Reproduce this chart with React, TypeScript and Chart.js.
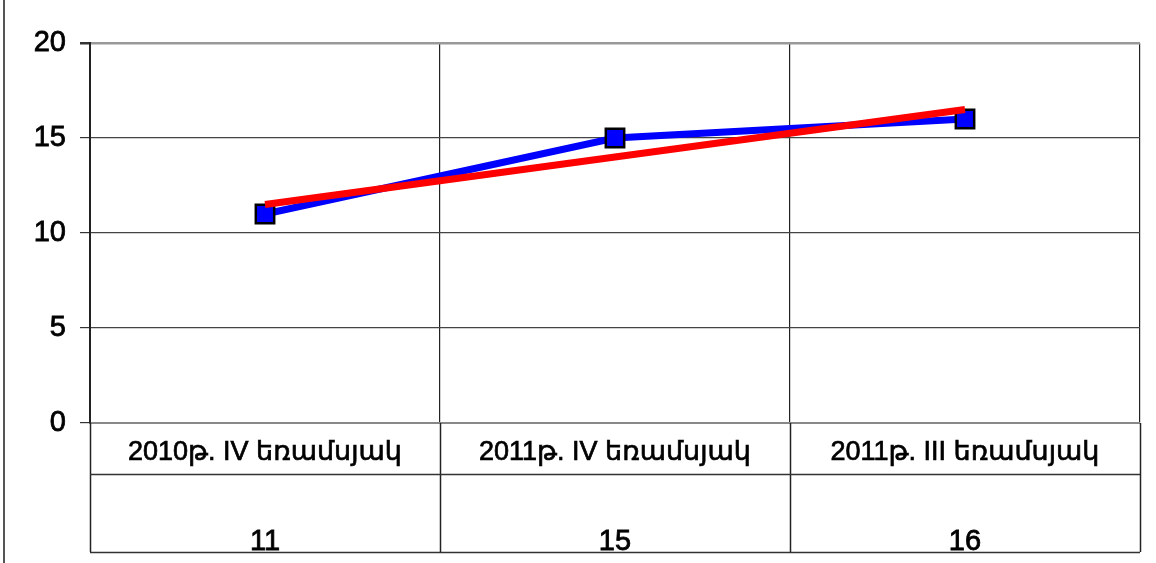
import React, { useEffect, useRef } from "react";
import { Chart, registerables } from "chart.js";

Chart.register(...registerables);

const categories = ["2010թ. IV եռամսյակ", "2011թ. IV եռամսյակ", "2011թ. III եռամսյակ"];
const seriesValues = [11, 15, 16];
const trendValues = [11.5, 14, 16.5];
const yMin = 0;
const yMax = 20;
const yStep = 5;

const FONT = "'Liberation Sans', Arial, 'DejaVu Sans', sans-serif";

const tablePlugin = {
  id: "dataTable",
  afterDraw(chart: any) {
    const ctx = chart.ctx;
    const x = chart.scales.x;
    const area = chart.chartArea;
    const n = categories.length;
    const bounds: number[] = [];
    for (let i = 0; i <= n; i++) bounds.push(x.getPixelForValue(i - 0.5));
    const rowMid = area.bottom + 51;
    const tableBottom = area.bottom + 129;
    ctx.save();
    // left page border
    ctx.strokeStyle = "#555";
    ctx.lineWidth = 2;
    ctx.beginPath();
    ctx.moveTo(4, 0);
    ctx.lineTo(4, chart.height);
    ctx.stroke();
    // table verticals
    ctx.strokeStyle = "#222";
    ctx.lineWidth = 1.5;
    for (const b of bounds) {
      ctx.beginPath();
      ctx.moveTo(Math.round(b) + 0.5, area.bottom);
      ctx.lineTo(Math.round(b) + 0.5, tableBottom);
      ctx.stroke();
    }
    // table horizontals
    ctx.strokeStyle = "#333";
    ctx.lineWidth = 1.5;
    for (const yy of [rowMid, tableBottom]) {
      ctx.beginPath();
      ctx.moveTo(bounds[0], yy + 0.5);
      ctx.lineTo(bounds[n], yy + 0.5);
      ctx.stroke();
    }
    // values row
    ctx.fillStyle = "#000";
    ctx.strokeStyle = "#000";
    ctx.lineWidth = 0.8;
    ctx.font = `29px ${FONT}`;
    ctx.textAlign = "center";
    ctx.textBaseline = "alphabetic";
    for (let i = 0; i < n; i++) {
      const px = x.getPixelForValue(i);
      ctx.fillText(String(seriesValues[i]), px, tableBottom - 2);
      ctx.strokeText(String(seriesValues[i]), px, tableBottom - 2);
    }
    ctx.restore();
  },
};

export default function App() {
  const ref = useRef<HTMLCanvasElement>(null);
  useEffect(() => {
    if (!ref.current) return;
    const chart = new Chart(ref.current, {
      type: "line",
      data: {
        labels: categories,
        datasets: [
          {
            label: "series",
            data: seriesValues,
            borderColor: "#0000FF",
            backgroundColor: "#0000FF",
            borderWidth: 7,
            pointStyle: "rect",
            pointRadius: 13,
            pointBorderWidth: 2.5,
            pointBorderColor: "#000",
            pointBackgroundColor: "#0000FF",
            tension: 0,
            order: 1,
          },
          {
            label: "trend",
            data: trendValues,
            borderColor: "#FF0000",
            borderWidth: 7,
            pointRadius: 0,
            tension: 0,
            order: 0,
          },
        ],
      },
      options: {
        animation: false,
        responsive: false,
        layout: { padding: { left: 0, top: 43, right: 16, bottom: 0 } },
        plugins: { legend: { display: false }, tooltip: { enabled: false } },
        scales: {
          x: {
            type: "category",
            offset: true,
            grid: {
              offset: true,
              drawTicks: false,
              color: (c: any) => (c.index === categories.length ? "#999" : "#222"),
              lineWidth: (c: any) => (c.index === categories.length ? 2.5 : 1.2),
            },
            border: { color: "#888", width: 2 },
            ticks: {
              color: "#000",
              font: { family: FONT, size: 27 },
              padding: 13,
              maxRotation: 0,
              autoSkip: false,
              textStrokeColor: "#000",
              textStrokeWidth: 0.7,
            },
            afterFit: (s: any) => {
              s.height = 140;
            },
          },
          y: {
            min: yMin,
            max: yMax,
            ticks: {
              stepSize: yStep,
              color: "#000",
              font: { family: FONT, size: 29 },
              padding: 14,
              textStrokeColor: "#000",
              textStrokeWidth: 0.8,
            },
            grid: {
              color: (c: any) => (c.tick && c.tick.value === yMax ? "#999" : "#444"),
              lineWidth: (c: any) => (c.tick && c.tick.value === yMax ? 2.5 : 1.2),
              tickLength: 10,
              tickColor: "#333",
            },
            border: { color: "#222", width: 2 },
            afterFit: (s: any) => {
              s.width = 90;
            },
          },
        },
      },
      plugins: [tablePlugin],
    });
    return () => chart.destroy();
  }, []);
  return (
    <div style={{ position: "absolute", left: 0, top: 0 }}>
      <canvas ref={ref} width={1156} height={563} style={{ display: "block" }} />
    </div>
  );
}
